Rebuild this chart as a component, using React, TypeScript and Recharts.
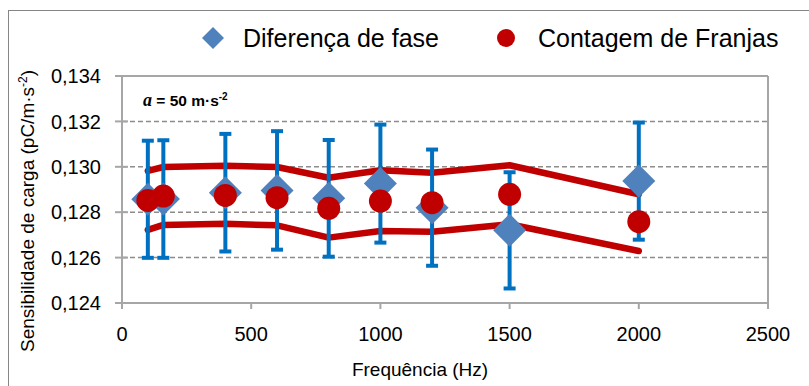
import React from 'react';
import {
  ComposedChart,
  Line,
  Scatter,
  ErrorBar,
  XAxis,
  YAxis,
  CartesianGrid,
  ReferenceLine,
} from 'recharts';

const frequencies = [100, 160, 400, 600, 800, 1000, 1200, 1500, 2000];
const faseValues = [0.12857, 0.12858, 0.12886, 0.12896, 0.12861, 0.12926, 0.1282, 0.1272, 0.12937];
const faseErrors = [0.00258, 0.00259, 0.00259, 0.00261, 0.00257, 0.0026, 0.00256, 0.00256, 0.00258];
const franjasValues = [0.12852, 0.12871, 0.12874, 0.12864, 0.12817, 0.12849, 0.12842, 0.12879, 0.12758];
const upperLimit = [0.12982, 0.12999, 0.13005, 0.12999, 0.12952, 0.12985, 0.12974, 0.13007, 0.12879];
const lowerLimit = [0.12722, 0.12744, 0.12749, 0.12742, 0.12688, 0.12717, 0.12714, 0.12747, 0.12629];
const xTicks = [0, 500, 1000, 1500, 2000, 2500];
const yTicks = [0.124, 0.126, 0.128, 0.13, 0.132, 0.134];

const faseData = frequencies.map((x, i) => ({ x, y: faseValues[i], err: faseErrors[i] }));
const franjasData = frequencies.map((x, i) => ({ x, y: franjasValues[i] }));
const upperData = frequencies.map((x, i) => ({ x, y: upperLimit[i] }));
const lowerData = frequencies.map((x, i) => ({ x, y: lowerLimit[i] }));

const FONT = '"Liberation Sans", Arial, sans-serif';
const BLUE = '#4F81BD';
const RED = '#C00000';
const AXIS = '#A6A6A6';

const Diamond = ({ cx, cy }: any) => {
  if (cx == null || cy == null) return null;
  const r = 16.5;
  return <polygon points={`${cx},${cy - r} ${cx + r},${cy} ${cx},${cy + r} ${cx - r},${cy}`} fill={BLUE} />;
};

const Dot = ({ cx, cy }: any) => {
  if (cx == null || cy == null) return null;
  return <circle cx={cx} cy={cy} r={11.5} fill={RED} />;
};

const Nothing = () => <g />;

// y tick: label plus the small inner half of the cross tick mark
const YTick = ({ x, y, payload }: any) => (
  <g>
    <line x1={x + 21} x2={x + 27} y1={y} y2={y} stroke={AXIS} strokeWidth={2} />
    <text x={x} y={y} dy="0.355em" textAnchor="end" fill="#000" fontSize={20} fontFamily={FONT}>
      {Number(payload.value).toFixed(3).replace('.', ',')}
    </text>
  </g>
);

export default function App() {
  const tickStyle = { fill: '#000', fontSize: 20, fontFamily: FONT };
  return (
    <div style={{ position: 'absolute', left: 0, top: 0, width: 809, height: 386, background: '#fff', overflow: 'hidden' }}>
      <div style={{ position: 'absolute', left: 8, top: 10, width: 900, height: 500, border: '1px solid #868686' }} />
      <ComposedChart
        width={809}
        height={386}
        margin={{ top: 76, right: 41, bottom: 0, left: 0 }}
        style={{ position: 'absolute', left: 0, top: 0 }}
      >
        <CartesianGrid vertical={false} stroke="#8C8C8C" strokeWidth={1.5} strokeDasharray="5 3" />
        <XAxis
          type="number"
          dataKey="x"
          domain={[0, 2500]}
          ticks={xTicks}
          height={83}
          axisLine={{ stroke: AXIS, strokeWidth: 2 }}
          tickLine={{ stroke: AXIS, strokeWidth: 2 }}
          tickSize={6}
          tickMargin={18}
          tick={tickStyle}
          interval={0}
        />
        <YAxis
          type="number"
          dataKey="y"
          domain={[0.124, 0.134]}
          ticks={yTicks}
          width={122}
          axisLine={{ stroke: AXIS, strokeWidth: 2 }}
          tickLine={{ stroke: AXIS, strokeWidth: 2 }}
          tickSize={7}
          tickMargin={14}
          tick={<YTick />}
          interval={0}
        />
        <ReferenceLine y={0.134} stroke={AXIS} strokeWidth={2} />
        <ReferenceLine x={2500} stroke={AXIS} strokeWidth={2} />
        <Line data={upperData} dataKey="y" type="linear" stroke={RED} strokeWidth={6.5} strokeLinecap="round" strokeLinejoin="round" dot={false} isAnimationActive={false} />
        <Line data={lowerData} dataKey="y" type="linear" stroke={RED} strokeWidth={6.5} strokeLinecap="round" strokeLinejoin="round" dot={false} isAnimationActive={false} />
        {/* error bars drawn first so the diamonds sit on top of them */}
        <Scatter data={faseData} dataKey="y" shape={<Nothing />} legendType="none" isAnimationActive={false}>
          <ErrorBar dataKey="err" direction="y" width={6} stroke="#0070C0" strokeWidth={4} />
        </Scatter>
        <Scatter data={faseData} dataKey="y" shape={<Diamond />} isAnimationActive={false} />
        <Scatter data={franjasData} dataKey="y" shape={<Dot />} isAnimationActive={false} />
      </ComposedChart>

      {/* legend */}
      <svg width={24} height={24} style={{ position: 'absolute', left: 201, top: 26 }}>
        <polygon points="12,1 23,12 12,23 1,12" fill={BLUE} />
      </svg>
      <div style={{ position: 'absolute', left: 243, top: 22, fontFamily: FONT, fontSize: 25, lineHeight: '32px', whiteSpace: 'nowrap' }}>
        Diferença de fase
      </div>
      <svg width={20} height={20} style={{ position: 'absolute', left: 496, top: 28 }}>
        <circle cx={10} cy={10} r={9} fill={RED} />
      </svg>
      <div style={{ position: 'absolute', left: 538, top: 22, fontFamily: FONT, fontSize: 25, lineHeight: '32px', whiteSpace: 'nowrap' }}>
        Contagem de Franjas
      </div>

      {/* annotation */}
      <div style={{ position: 'absolute', left: 143, top: 89, fontFamily: FONT, fontSize: 15.5, fontWeight: 'bold', lineHeight: '22px', whiteSpace: 'nowrap' }}>
        <span style={{ fontFamily: '"Liberation Serif", serif', fontStyle: 'italic', fontSize: 18 }}>a</span> = 50 m·s<sup style={{ fontSize: 10, lineHeight: 0 }}>-2</sup>
      </div>

      {/* axis titles */}
      <div style={{ position: 'absolute', left: 420, top: 370, transform: 'translate(-50%, -50%)', fontFamily: FONT, fontSize: 19, whiteSpace: 'nowrap' }}>
        Frequência (Hz)
      </div>
      <div style={{ position: 'absolute', left: 28, top: 211, transform: 'translate(-50%, -50%) rotate(-90deg)', fontFamily: FONT, fontSize: 19, whiteSpace: 'nowrap' }}>
        Sensibilidade de carga (pC/m·s<sup style={{ fontSize: 12, lineHeight: 0 }}>-2</sup>)
      </div>
    </div>
  );
}
